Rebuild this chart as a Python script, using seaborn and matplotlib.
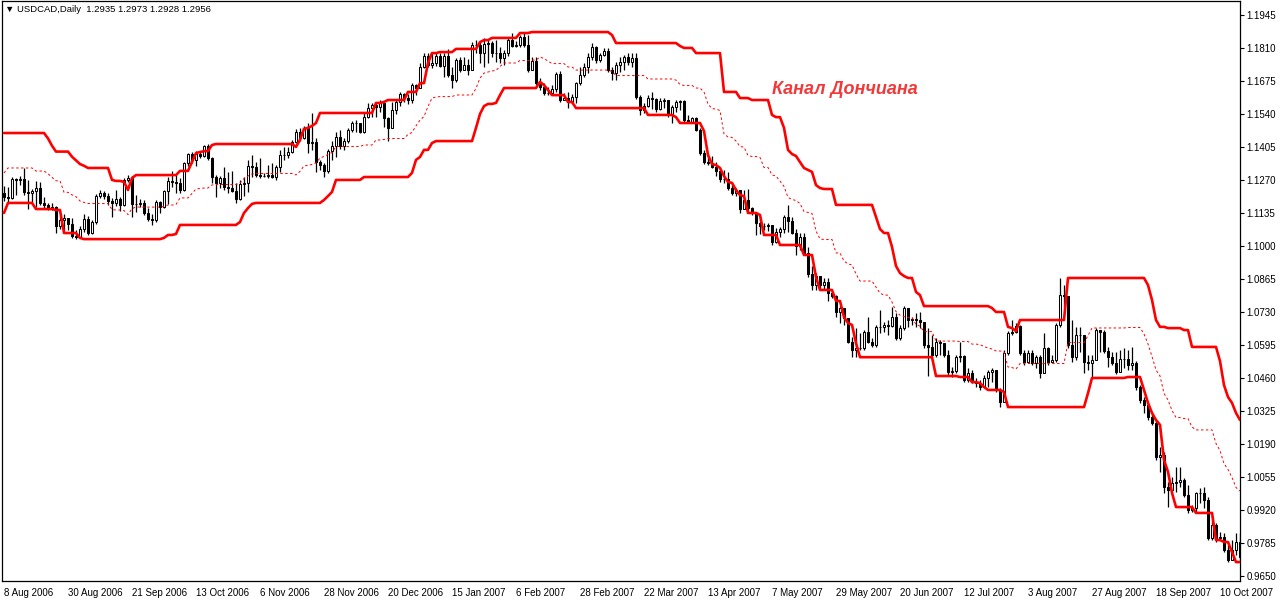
import matplotlib

matplotlib.use("Agg")
import matplotlib.pyplot as plt
import numpy as np
import pandas as pd
import seaborn as sns


# 21 daily bars before 8 Aug 2006 that feed the channel but stay off screen
PRE_CLOSE = [1.1190, 1.1230, 1.1200, 1.1235, 1.1270, 1.1240, 1.1210, 1.1290, 1.1350, 1.1400,
             1.1420, 1.1370, 1.1340, 1.1320, 1.1300, 1.1280, 1.1300, 1.1260, 1.1240, 1.1230,
             1.1215]
PRE_HIGH = [1.1200, 1.1240, 1.1260, 1.1250, 1.1290, 1.1300, 1.1280, 1.1300, 1.1370, 1.1420,
            1.1462, 1.1440, 1.1410, 1.1380, 1.1370, 1.1360, 1.1386, 1.1365, 1.1350, 1.1335,
            1.1328]
PRE_LOW = [1.1135, 1.1180, 1.1190, 1.1185, 1.1200, 1.1220, 1.1190, 1.1176, 1.1270, 1.1330,
           1.1370, 1.1350, 1.1320, 1.1300, 1.1270, 1.1260, 1.1250, 1.1240, 1.1220, 1.1210,
           1.1200]

# visible USDCAD daily bars, 8 Aug 2006 onwards
CLOSE = [
    1.1200, 1.1196, 1.1274, 1.1270, 1.1274, 1.1221, 1.1217, 1.1225, 1.1237, 1.1176,
    1.1168, 1.1155, 1.1159, 1.1082, 1.1106, 1.1114, 1.1090, 1.1041, 1.1037, 1.1069,
    1.1110, 1.1053, 1.1098, 1.1204, 1.1217, 1.1204, 1.1184, 1.1176, 1.1192, 1.1168,
    1.1270, 1.1278, 1.1172, 1.1172, 1.1176, 1.1135, 1.1110, 1.1106, 1.1180, 1.1159,
    1.1225, 1.1266, 1.1262, 1.1258, 1.1229, 1.1339, 1.1376, 1.1352, 1.1376, 1.1368,
    1.1409, 1.1360, 1.1282, 1.1258, 1.1278, 1.1241, 1.1237, 1.1225, 1.1192, 1.1254,
    1.1258, 1.1327, 1.1323, 1.1290, 1.1286, 1.1286, 1.1290, 1.1282, 1.1323, 1.1372,
    1.1372, 1.1384, 1.1425, 1.1466, 1.1442, 1.1483, 1.1421, 1.1425, 1.1343, 1.1331,
    1.1307, 1.1388, 1.1409, 1.1446, 1.1409, 1.1429, 1.1474, 1.1503, 1.1503, 1.1466,
    1.1527, 1.1564, 1.1577, 1.1568, 1.1585, 1.1523, 1.1483, 1.1556, 1.1589, 1.1622,
    1.1605, 1.1597, 1.1658, 1.1646, 1.1732, 1.1777, 1.1740, 1.1748, 1.1777, 1.1736,
    1.1777, 1.1699, 1.1679, 1.1761, 1.1720, 1.1740, 1.1720, 1.1822, 1.1822, 1.1789,
    1.1826, 1.1830, 1.1789, 1.1789, 1.1769, 1.1789, 1.1842, 1.1818, 1.1822, 1.1855,
    1.1822, 1.1720, 1.1757, 1.1667, 1.1650, 1.1626, 1.1626, 1.1642, 1.1703, 1.1597,
    1.1605, 1.1589, 1.1609, 1.1667, 1.1699, 1.1732, 1.1773, 1.1814, 1.1761, 1.1781,
    1.1797, 1.1720, 1.1707, 1.1740, 1.1752, 1.1773, 1.1752, 1.1769, 1.1609, 1.1556,
    1.1572, 1.1605, 1.1601, 1.1560, 1.1593, 1.1597, 1.1540, 1.1568, 1.1589, 1.1593,
    1.1515, 1.1507, 1.1523, 1.1474, 1.1380, 1.1343, 1.1339, 1.1323, 1.1307, 1.1274,
    1.1274, 1.1237, 1.1217, 1.1229, 1.1151, 1.1188, 1.1155, 1.1135, 1.1094, 1.1082,
    1.1082, 1.1086, 1.1016, 1.1057, 1.1069, 1.1118, 1.1102, 1.1053, 1.1000, 1.1037,
    1.0971, 1.0885, 1.0840, 1.0877, 1.0840, 1.0853, 1.0808, 1.0795, 1.0730, 1.0746,
    1.0705, 1.0607, 1.0574, 1.0583, 1.0583, 1.0648, 1.0607, 1.0595, 1.0669, 1.0669,
    1.0677, 1.0673, 1.0709, 1.0624, 1.0664, 1.0746, 1.0697, 1.0701, 1.0697, 1.0689,
    1.0595, 1.0587, 1.0554, 1.0607, 1.0603, 1.0554, 1.0485, 1.0489, 1.0545, 1.0550,
    1.0452, 1.0480, 1.0443, 1.0439, 1.0423, 1.0460, 1.0485, 1.0493, 1.0411, 1.0362,
    1.0562, 1.0644, 1.0648, 1.0673, 1.0562, 1.0525, 1.0562, 1.0521, 1.0545, 1.0480,
    1.0583, 1.0525, 1.0534, 1.0677, 1.0799, 1.0795, 1.0595, 1.0545, 1.0636, 1.0636,
    1.0525, 1.0521, 1.0534, 1.0656, 1.0648, 1.0570, 1.0545, 1.0521, 1.0485, 1.0537,
    1.0537, 1.0513, 1.0521, 1.0423, 1.0370, 1.0350, 1.0300, 1.0276, 1.0137, 1.0145,
    1.0014, 1.0002, 1.0030, 1.0034, 1.0043, 0.9981, 0.9920, 0.9928, 0.9990, 0.9990,
    0.9961, 0.9806, 0.9859, 0.9806, 0.9810, 0.9757, 0.9716, 0.9757, 0.9789, 0.9728,
]
HIGH = [
    1.1245, 1.1241, 1.1282, 1.1278, 1.1286, 1.1319, 1.1270, 1.1233, 1.1266, 1.1262,
    1.1200, 1.1176, 1.1176, 1.1163, 1.1127, 1.1131, 1.1110, 1.1114, 1.1065, 1.1082,
    1.1131, 1.1123, 1.1106, 1.1212, 1.1229, 1.1225, 1.1217, 1.1196, 1.1229, 1.1200,
    1.1278, 1.1290, 1.1286, 1.1208, 1.1192, 1.1188, 1.1155, 1.1131, 1.1188, 1.1184,
    1.1229, 1.1282, 1.1307, 1.1290, 1.1278, 1.1343, 1.1380, 1.1384, 1.1388, 1.1384,
    1.1413, 1.1417, 1.1364, 1.1290, 1.1286, 1.1323, 1.1303, 1.1307, 1.1258, 1.1270,
    1.1282, 1.1352, 1.1372, 1.1343, 1.1360, 1.1299, 1.1331, 1.1339, 1.1331, 1.1393,
    1.1405, 1.1405, 1.1434, 1.1479, 1.1483, 1.1491, 1.1503, 1.1544, 1.1442, 1.1352,
    1.1339, 1.1397, 1.1429, 1.1466, 1.1474, 1.1442, 1.1483, 1.1511, 1.1515, 1.1503,
    1.1544, 1.1585, 1.1585, 1.1589, 1.1597, 1.1585, 1.1527, 1.1589, 1.1597, 1.1630,
    1.1626, 1.1622, 1.1666, 1.1662, 1.1748, 1.1789, 1.1789, 1.1793, 1.1793, 1.1789,
    1.1789, 1.1806, 1.1732, 1.1769, 1.1773, 1.1773, 1.1765, 1.1834, 1.1842, 1.1834,
    1.1851, 1.1842, 1.1838, 1.1842, 1.1814, 1.1801, 1.1851, 1.1871, 1.1838, 1.1863,
    1.1875, 1.1863, 1.1773, 1.1773, 1.1687, 1.1667, 1.1650, 1.1658, 1.1712, 1.1716,
    1.1626, 1.1630, 1.1622, 1.1671, 1.1732, 1.1748, 1.1789, 1.1830, 1.1818, 1.1789,
    1.1810, 1.1810, 1.1732, 1.1752, 1.1773, 1.1781, 1.1789, 1.1789, 1.1789, 1.1617,
    1.1585, 1.1617, 1.1630, 1.1605, 1.1605, 1.1605, 1.1597, 1.1577, 1.1597, 1.1597,
    1.1597, 1.1536, 1.1527, 1.1527, 1.1483, 1.1393, 1.1376, 1.1368, 1.1343, 1.1319,
    1.1311, 1.1303, 1.1249, 1.1237, 1.1229, 1.1229, 1.1233, 1.1159, 1.1139, 1.1118,
    1.1094, 1.1094, 1.1078, 1.1073, 1.1078, 1.1127, 1.1168, 1.1118, 1.1069, 1.1053,
    1.1053, 1.0996, 1.0918, 1.0889, 1.0877, 1.0869, 1.0869, 1.0812, 1.0799, 1.0754,
    1.0746, 1.0705, 1.0628, 1.0664, 1.0644, 1.0656, 1.0709, 1.0624, 1.0677, 1.0738,
    1.0689, 1.0697, 1.0750, 1.0726, 1.0677, 1.0754, 1.0746, 1.0709, 1.0726, 1.0730,
    1.0669, 1.0664, 1.0636, 1.0624, 1.0615, 1.0587, 1.0574, 1.0505, 1.0554, 1.0607,
    1.0554, 1.0501, 1.0493, 1.0460, 1.0452, 1.0472, 1.0493, 1.0501, 1.0472, 1.0419,
    1.0574, 1.0652, 1.0697, 1.0685, 1.0677, 1.0574, 1.0574, 1.0574, 1.0554, 1.0554,
    1.0644, 1.0587, 1.0554, 1.0685, 1.0869, 1.0840, 1.0779, 1.0697, 1.0669, 1.0669,
    1.0624, 1.0554, 1.0554, 1.0664, 1.0656, 1.0656, 1.0587, 1.0566, 1.0566, 1.0574,
    1.0583, 1.0574, 1.0587, 1.0529, 1.0431, 1.0382, 1.0358, 1.0317, 1.0288, 1.0178,
    1.0157, 1.0035, 1.0055, 1.0096, 1.0096, 1.0051, 1.0022, 0.9941, 0.9994, 1.0010,
    1.0014, 0.9973, 0.9879, 0.9867, 0.9830, 0.9826, 0.9777, 0.9797, 0.9826, 0.9826,
]
LOW = [
    1.1184, 1.1180, 1.1192, 1.1208, 1.1249, 1.1208, 1.1151, 1.1176, 1.1160, 1.1168,
    1.1155, 1.1147, 1.1147, 1.1053, 1.1069, 1.1061, 1.1065, 1.1033, 1.1028, 1.1033,
    1.1057, 1.1045, 1.1049, 1.1090, 1.1196, 1.1192, 1.1168, 1.1118, 1.1163, 1.1143,
    1.1163, 1.1262, 1.1118, 1.1139, 1.1159, 1.1127, 1.1102, 1.1086, 1.1098, 1.1135,
    1.1155, 1.1172, 1.1241, 1.1217, 1.1217, 1.1225, 1.1327, 1.1339, 1.1327, 1.1360,
    1.1364, 1.1352, 1.1258, 1.1200, 1.1237, 1.1229, 1.1217, 1.1221, 1.1176, 1.1188,
    1.1204, 1.1221, 1.1282, 1.1282, 1.1278, 1.1282, 1.1278, 1.1278, 1.1270, 1.1303,
    1.1352, 1.1360, 1.1380, 1.1421, 1.1429, 1.1437, 1.1380, 1.1393, 1.1303, 1.1311,
    1.1282, 1.1299, 1.1352, 1.1364, 1.1397, 1.1393, 1.1421, 1.1466, 1.1466, 1.1462,
    1.1462, 1.1523, 1.1527, 1.1527, 1.1548, 1.1487, 1.1429, 1.1483, 1.1540, 1.1572,
    1.1589, 1.1581, 1.1585, 1.1617, 1.1646, 1.1728, 1.1732, 1.1728, 1.1736, 1.1732,
    1.1691, 1.1691, 1.1646, 1.1671, 1.1712, 1.1720, 1.1699, 1.1720, 1.1789, 1.1748,
    1.1732, 1.1748, 1.1773, 1.1752, 1.1748, 1.1740, 1.1777, 1.1814, 1.1814, 1.1814,
    1.1814, 1.1712, 1.1728, 1.1658, 1.1638, 1.1617, 1.1617, 1.1622, 1.1630, 1.1589,
    1.1597, 1.1564, 1.1585, 1.1585, 1.1658, 1.1691, 1.1707, 1.1761, 1.1748, 1.1752,
    1.1777, 1.1712, 1.1679, 1.1679, 1.1712, 1.1720, 1.1740, 1.1732, 1.1601, 1.1536,
    1.1544, 1.1568, 1.1560, 1.1548, 1.1556, 1.1564, 1.1527, 1.1503, 1.1548, 1.1556,
    1.1507, 1.1503, 1.1503, 1.1470, 1.1372, 1.1335, 1.1331, 1.1319, 1.1286, 1.1262,
    1.1258, 1.1229, 1.1208, 1.1204, 1.1135, 1.1180, 1.1139, 1.1127, 1.1045, 1.1049,
    1.1065, 1.1061, 1.1004, 1.1012, 1.1037, 1.1053, 1.1057, 1.1049, 1.0963, 1.0984,
    1.0963, 1.0873, 1.0820, 1.0820, 1.0824, 1.0820, 1.0775, 1.0787, 1.0709, 1.0685,
    1.0677, 1.0603, 1.0545, 1.0545, 1.0574, 1.0574, 1.0603, 1.0587, 1.0587, 1.0644,
    1.0648, 1.0636, 1.0669, 1.0615, 1.0615, 1.0656, 1.0669, 1.0677, 1.0669, 1.0664,
    1.0583, 1.0468, 1.0545, 1.0545, 1.0554, 1.0545, 1.0472, 1.0464, 1.0480, 1.0525,
    1.0443, 1.0443, 1.0439, 1.0423, 1.0411, 1.0423, 1.0423, 1.0443, 1.0403, 1.0341,
    1.0398, 1.0554, 1.0636, 1.0644, 1.0554, 1.0513, 1.0521, 1.0513, 1.0501, 1.0460,
    1.0480, 1.0513, 1.0525, 1.0525, 1.0669, 1.0750, 1.0583, 1.0525, 1.0534, 1.0566,
    1.0480, 1.0493, 1.0464, 1.0534, 1.0566, 1.0562, 1.0505, 1.0513, 1.0476, 1.0485,
    1.0501, 1.0493, 1.0493, 1.0411, 1.0358, 1.0317, 1.0288, 1.0268, 1.0125, 1.0076,
    0.9990, 0.9932, 0.9994, 0.9994, 1.0014, 0.9973, 0.9908, 0.9912, 0.9912, 0.9949,
    0.9928, 0.9797, 0.9797, 0.9789, 0.9797, 0.9748, 0.9707, 0.9716, 0.9736, 0.9716,
]

FIRST_DAY = "2006-08-08"
HOLIDAYS = ["2006-12-25", "2007-01-01"]
HEADER = "\u25bc USDCAD,Daily  1.2935 1.2973 1.2928 1.2956"
TITLE = "Канал Дончиана"

PERIOD = 20
SHIFT = 2


def main() -> None:
    sns.set_theme(style="white")
    plt.rcParams["font.family"] = ["Liberation Sans", "DejaVu Sans"]

    n_pre = len(PRE_CLOSE)
    close_all = np.array(PRE_CLOSE + CLOSE)
    high_all = pd.Series(PRE_HIGH + HIGH)
    low_all = pd.Series(PRE_LOW + LOW)
    open_all = np.r_[close_all[0], close_all[:-1]]

    upper = high_all.rolling(PERIOD).max().shift(SHIFT).to_numpy()[n_pre:]
    lower = low_all.rolling(PERIOD).min().shift(SHIFT).to_numpy()[n_pre:]
    middle = (upper + lower) / 2

    close = close_all[n_pre:]
    opn = open_all[n_pre:]
    high = high_all.to_numpy()[n_pre:]
    low = low_all.to_numpy()[n_pre:]
    x = np.arange(len(close))

    days = pd.bdate_range(FIRST_DAY, periods=len(close) + 10)
    days = days[~days.isin(pd.to_datetime(HOLIDAYS))][: len(close)]

    fig = plt.figure(figsize=(12.8, 6), dpi=100)
    ax = fig.add_axes([2 / 1280, 19 / 600, 1238 / 1280, 580 / 600])

    body_lo = np.minimum(opn, close)
    body_hi = np.maximum(opn, close)
    ax.vlines(x, np.minimum(low, body_lo), np.maximum(high, body_hi),
              color="black", linewidth=0.9, zorder=2)
    up = close >= opn
    ax.bar(x, body_hi - body_lo, bottom=body_lo, width=0.7,
           color=np.where(up, "white", "black"), edgecolor="black",
           linewidth=0.75, zorder=3)

    sns.lineplot(x=x, y=upper, color="red", linewidth=1.9, ax=ax, zorder=4)
    sns.lineplot(x=x, y=lower, color="red", linewidth=1.9, ax=ax, zorder=4)
    sns.lineplot(x=x, y=middle, color="red", linewidth=0.7,
                 linestyle=(0, (2.5, 2.5)), ax=ax, zorder=4)

    ax.set_xlim(-0.5, 309.0)
    ax.set_ylim(0.96295, 1.2002)

    yticks = 1.1945 - 0.0135 * np.arange(18)
    ax.yaxis.tick_right()
    ax.set_yticks(yticks)
    ax.set_yticklabels([f"{v:.4f}" for v in yticks])

    xticks = np.arange(0, len(close), 16)
    ax.set_xticks(xticks)
    ax.set_xticklabels([f"{days[i].day} {days[i]:%b %Y}" for i in xticks])
    for label in ax.get_xticklabels():
        label.set_horizontalalignment("left")

    ax.tick_params(axis="both", labelsize=7, length=3, width=0.8,
                   direction="out", colors="black", pad=2)
    ax.tick_params(axis="y", pad=1.5)
    for spine in ax.spines.values():
        spine.set_color("black")
        spine.set_linewidth(0.9)
    ax.set_xlabel("")
    ax.set_ylabel("")

    fig.text(5 / 1280, 1 - 9 / 600, HEADER, fontsize=6.8, va="center", color="black")
    fig.text(845 / 1280, 1 - 90 / 600, TITLE, fontsize=13, fontweight="bold",
             style="italic", color="#f03a3a", ha="center", va="center")

    fig.savefig("out.png", dpi=100)
    plt.close(fig)


if __name__ == "__main__":
    main()
